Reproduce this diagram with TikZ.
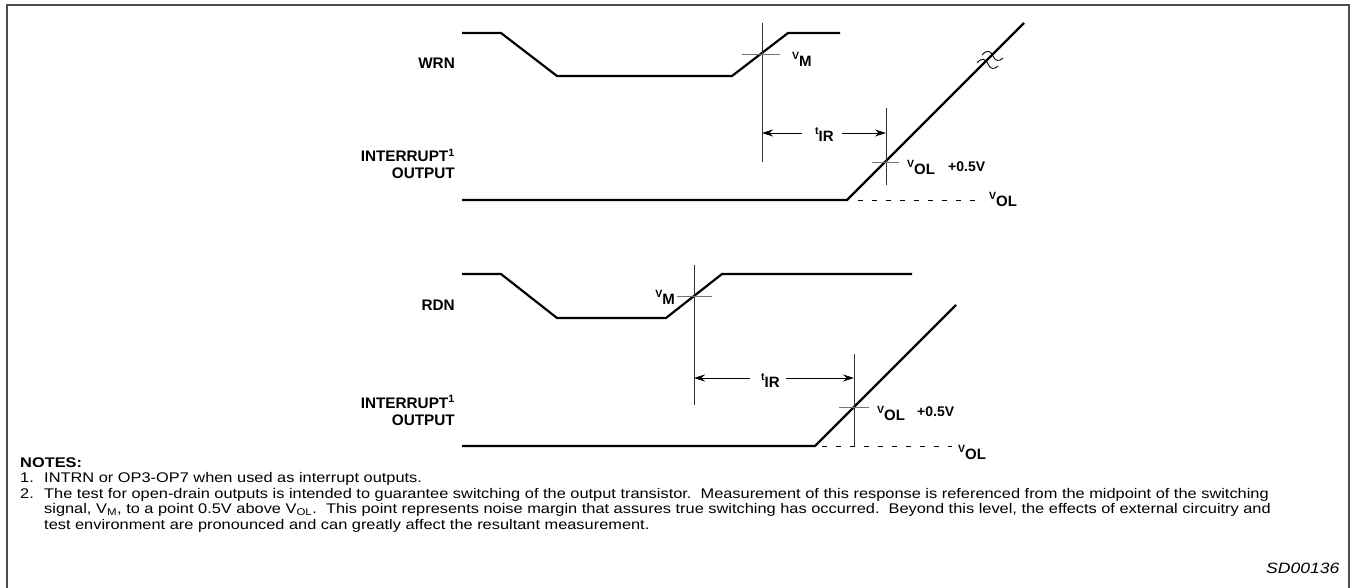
\documentclass[tikz,border=0pt]{standalone}
\usepackage{fontspec}
\setmainfont{Liberation Sans}
\usetikzlibrary{arrows.meta}
\newcommand\sgl[2]{\raisebox{7pt}{\fontsize{10.5}{12}\selectfont #1}#2}
\newcommand\widetxt[1]{\scalebox{1.17}[1]{#1}}
\begin{document}
\begin{tikzpicture}[x=1pt,y=-1pt,
  wave/.style={line width=2.2pt, line join=miter},
  thinl/.style={line width=0.8pt, black!80},
  tick/.style={line width=0.8pt, black!55},
  brk/.style={line width=0.9pt},
  dashl/.style={line width=0.8pt, dash pattern=on 5pt off 9pt},
  arr/.style={line width=0.8pt, -{Stealth[length=11pt,width=7pt]}},
  lbl/.style={font=\bfseries\fontsize{15.3}{17}\selectfont, align=right, anchor=base east, inner sep=0pt},
  sig/.style={font=\bfseries\fontsize{15}{16}\selectfont, anchor=base west, inner sep=0pt},
  plus/.style={font=\bfseries\fontsize{14}{15}\selectfont, anchor=base west, inner sep=0pt},
  note/.style={font=\fontsize{14}{15}\selectfont, anchor=base west, inner sep=0pt}
]
\useasboundingbox (0,0) rectangle (1353,588);
\draw[line width=1.8pt, black!70] (7,592) -- (7,5) -- (1349,5) -- (1349,592);

% ---------- top block ----------
\node[lbl] (wrn) at (455,69) {WRN};
\node[lbl] (int1) at (455,162) {INTERRUPT\textsuperscript{1}};
\node[lbl] (out1) at (455,179) {OUTPUT};

\draw[wave] (462,33) -- (501,33) -- (557,76) -- (732,76) -- (788,33) -- (840,33);
\coordinate (vm1t) at (762,23);
\coordinate (vm1b) at (762,162);
\draw[thinl] (vm1t) -- (vm1b);
\draw[tick] (742,54) -- (780,54);
\node[sig] (vm1) at (792,67) {\sgl{V}{M}};

\draw[wave] (462,200) -- (847,200) -- (1024,23);
\draw[brk] (982,55) .. controls (987,49) and (991,51) .. (993,56) .. controls (995,61) and (999,62) .. (1003,58);
\draw[brk] (977,63) .. controls (982,57) and (986,59) .. (988,64) .. controls (990,69) and (994,70) .. (998,66);
\coordinate (v2t) at (886,108);
\coordinate (v2b) at (886,185);
\draw[thinl] (v2t) -- (v2b);
\draw[tick] (872,162) -- (899,162);
\draw[dashl] (858,200) -- (984,200);
\node[sig] (tir1) at (815,142) {\sgl{t}{IR}};
\draw[arr] (802,133) -- (vm1t |- 0,133);
\draw[arr] (842,133) -- (v2t |- 0,133);
\node[sig] (vol1a) at (907,175) {\sgl{V}{OL}};
\node[plus] (p1) at (948,172) {+0.5V};
\node[sig] (vol1b) at (989,207) {\sgl{V}{OL}};

% ---------- bottom block ----------
\node[lbl] (rdn) at (455,310) {RDN};
\node[lbl] (int2) at (455,408) {INTERRUPT\textsuperscript{1}};
\node[lbl] (out2) at (455,425) {OUTPUT};

\draw[wave] (462,274) -- (501,274) -- (557,318) -- (666,318) -- (722,274) -- (912,274);
\coordinate (vm2t) at (694,265);
\coordinate (vm2b) at (694,405);
\draw[thinl] (vm2t) -- (vm2b);
\draw[tick] (677,296) -- (712,296);
\node[sig, anchor=base east] (vm2) at (675,305) {\sgl{V}{M}};

\draw[wave] (462,446) -- (815,446) -- (956,305);
\coordinate (v4t) at (854,354);
\coordinate (v4b) at (854,446);
\draw[thinl] (v4t) -- (v4b);
\draw[tick] (839,407) -- (869,407);
\draw[dashl] (822,446) -- (952,446);
\node[sig] (tir2) at (761,387) {\sgl{t}{IR}};
\draw[arr] (750,378) -- (vm2t |- 0,378);
\draw[arr] (786,378) -- (v4t |- 0,378);
\node[sig] (vol2a) at (877,420) {\sgl{V}{OL}};
\node[plus] (p2) at (917,416) {+0.5V};
\node[sig] (vol2b) at (958,459) {\sgl{V}{OL}};

% ---------- notes ----------
\node[note, font=\bfseries\fontsize{14}{15}\selectfont] (nh) at (20,467) {\widetxt{NOTES:}};
\node[note] (n1a) at (20,482.5) {\widetxt{1.}};
\node[note] (n1) at (44,482.5) {\widetxt{INTRN or OP3-OP7 when used as interrupt outputs.}};
\node[note] (n2a) at (20,498) {\widetxt{2.}};
\node[note] (n2) at (44,498) {\widetxt{The test for open-drain outputs is intended to guarantee switching of the output transistor.\ \ Measurement of this response is referenced from the midpoint of the switching}};
\node[note] (n3) at (44,513.5) {\widetxt{signal, V\textsubscript{M}, to a point 0.5V above V\textsubscript{OL}.\ \ This point represents noise margin that assures true switching has occurred.\ \ Beyond this level, the effects of external circuitry and}};
\node[note] (n4) at (44,529) {\widetxt{test environment are pronounced and can greatly affect the resultant measurement.}};
\node[note, font=\itshape\fontsize{15}{16}\selectfont] (sd) at (1266,573) {\widetxt{SD00136}};
\end{tikzpicture}
\end{document}
